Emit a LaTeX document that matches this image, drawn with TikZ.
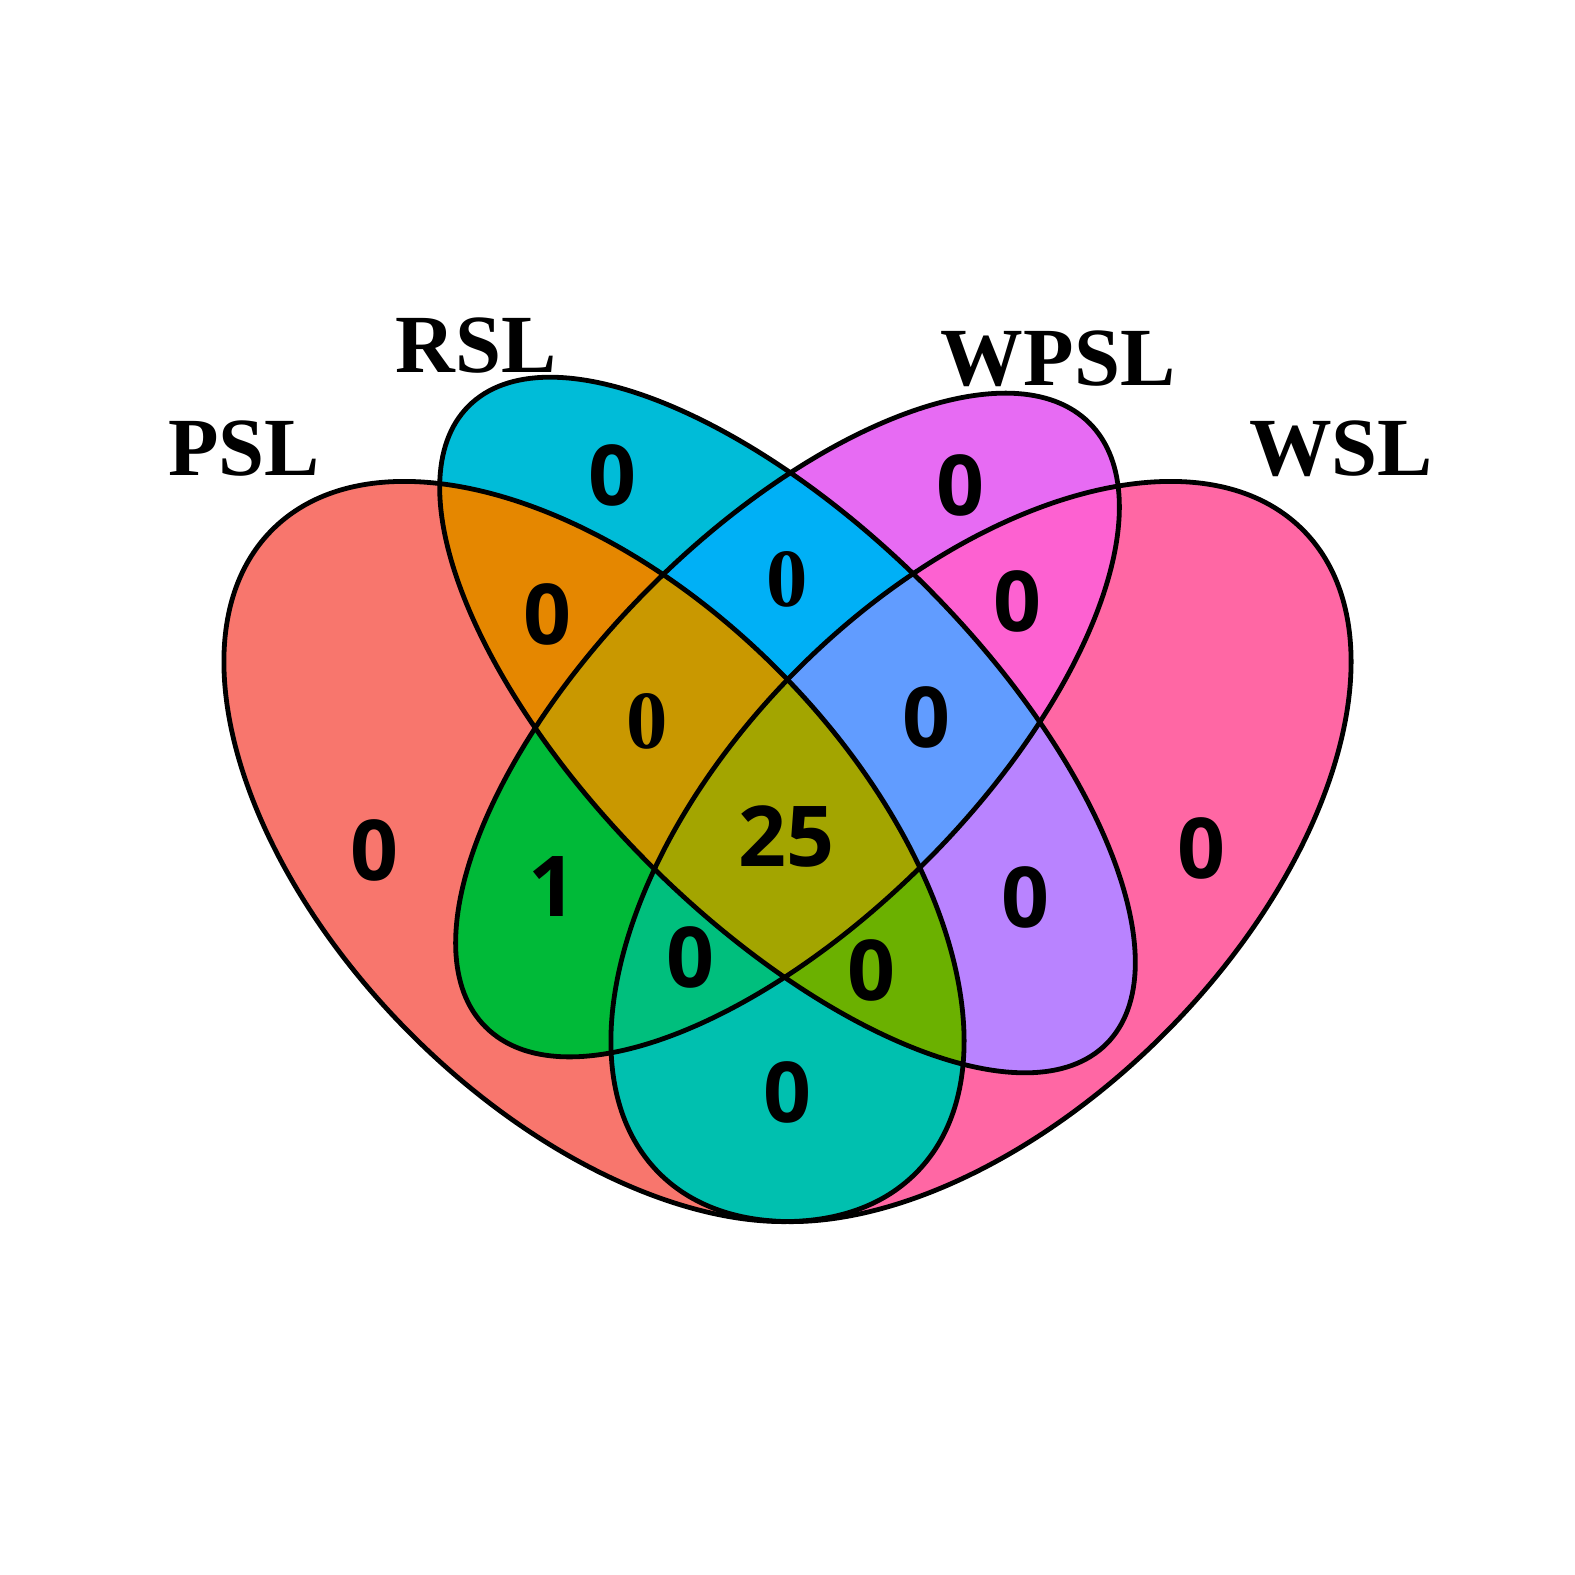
\documentclass[tikz,border=0pt]{standalone}
\usepackage{fontspec}
\setmainfont{Liberation Serif}
\newfontfamily\namefont{Liberation Serif Bold}
\newfontfamily\countfont{Open Sans Bold}

\tikzset{every picture/.style={line width=0.75pt}}
\tikzset{
	set line/.style={draw={rgb, 255:red, 0; green, 0; blue, 0 }, line width=3.6pt},
	set name/.style={font=\namefont\fontsize{62}{62}\selectfont},
	num label/.style={font=\countfont\fontsize{63}{63}\selectfont},
	num serif/.style={font=\namefont\fontsize{62}{62}\selectfont}}
% the four sets
\newcommand{\shapePSL}{(594,851.5) ellipse [x radius=455, y radius=258.5, rotate=45]}
\newcommand{\shapeRSL}{(787.5,725) ellipse [x radius=451, y radius=196, rotate=45]}
\newcommand{\shapeWPSL}{(787.5,725) ellipse [x radius=427, y radius=194.5, rotate=-45]}
\newcommand{\shapeWSL}{(981,851.5) ellipse [x radius=455, y radius=258.5, rotate=-45]}

\begin{document}
\begin{tikzpicture}[x=0.75pt,y=0.75pt,yscale=-1,xscale=1]
	%set diagram size to the whole canvas
	\path (0,0) -- (1575,1575);

	%Shape: Ellipse [PSL] 
	\fill [fill={rgb, 255:red, 248; green, 118; blue, 109 }] \shapePSL;
	%Shape: Ellipse [RSL] 
	\fill [fill={rgb, 255:red, 0; green, 188; blue, 216 }] \shapeRSL;
	%Shape: Ellipse [WPSL] 
	\fill [fill={rgb, 255:red, 231; green, 107; blue, 243 }] \shapeWPSL;
	%Shape: Ellipse [WSL] 
	\fill [fill={rgb, 255:red, 255; green, 103; blue, 164 }] \shapeWSL;

	%Region: PSL & RSL
	\begin{scope} \clip \shapePSL; \fill [fill={rgb, 255:red, 229; green, 135; blue, 0 }] \shapeRSL; \end{scope}
	%Region: PSL & WPSL
	\begin{scope} \clip \shapePSL; \fill [fill={rgb, 255:red, 0; green, 186; blue, 56 }] \shapeWPSL; \end{scope}
	%Region: PSL & WSL
	\begin{scope} \clip \shapePSL; \fill [fill={rgb, 255:red, 0; green, 192; blue, 175 }] \shapeWSL; \end{scope}
	%Region: RSL & WPSL
	\begin{scope} \clip \shapeRSL; \fill [fill={rgb, 255:red, 0; green, 176; blue, 246 }] \shapeWPSL; \end{scope}
	%Region: RSL & WSL
	\begin{scope} \clip \shapeRSL; \fill [fill={rgb, 255:red, 185; green, 131; blue, 255 }] \shapeWSL; \end{scope}
	%Region: WPSL & WSL
	\begin{scope} \clip \shapeWPSL; \fill [fill={rgb, 255:red, 253; green, 97; blue, 209 }] \shapeWSL; \end{scope}

	%Region: PSL & RSL & WPSL
	\begin{scope} \clip \shapePSL; \clip \shapeRSL; \fill [fill={rgb, 255:red, 201; green, 152; blue, 0 }] \shapeWPSL; \end{scope}
	%Region: PSL & RSL & WSL
	\begin{scope} \clip \shapePSL; \clip \shapeRSL; \fill [fill={rgb, 255:red, 107; green, 177; blue, 0 }] \shapeWSL; \end{scope}
	%Region: PSL & WPSL & WSL
	\begin{scope} \clip \shapePSL; \clip \shapeWPSL; \fill [fill={rgb, 255:red, 0; green, 191; blue, 125 }] \shapeWSL; \end{scope}
	%Region: RSL & WPSL & WSL
	\begin{scope} \clip \shapeRSL; \clip \shapeWPSL; \fill [fill={rgb, 255:red, 97; green, 156; blue, 255 }] \shapeWSL; \end{scope}
	%Region: all four
	\begin{scope} \clip \shapePSL; \clip \shapeRSL; \clip \shapeWPSL; \fill [fill={rgb, 255:red, 163; green, 165; blue, 0 }] \shapeWSL; \end{scope}

	%Outlines
	\draw [set line] \shapePSL;
	\draw [set line] \shapeRSL;
	\draw [set line] \shapeWPSL;
	\draw [set line] \shapeWSL;

	% Text Node
	\draw (244,449) node (labPSL) [set name] {PSL};
	% Text Node
	\draw (476,346) node (labRSL) [set name] {RSL};
	% Text Node
	\draw (1058,359) node (labWPSL) [set name] {WPSL};
	% Text Node
	\draw (1341,449) node (labWSL) [set name] {WSL};

	% Text Node
	\draw (374,850) node (nP) [num label] {0};
	% Text Node
	\draw (612,475) node (nR) [num label] {0};
	% Text Node
	\draw (960,485) node (nWP) [num label] {0};
	% Text Node
	\draw (1201,848) node (nW) [num label] {0};
	% Text Node
	\draw (547,614) node (nPR) [num label] {0};
	% Text Node
	\draw (787,579) node (nRWP) [num serif] {0};
	% Text Node
	\draw (1017,601) node (nWPW) [num label] {0};
	% Text Node
	\draw (647,721) node (nPRWP) [num serif] {0};
	% Text Node
	\draw (926,717) node (nRWPW) [num label] {0};
	% Text Node
	\draw (786,836) node (nAll) [num label] {25};
	% Text Node
	\draw (552,887) node (nPWP) [num label] {1};
	% Text Node
	\draw (690,957) node (nPWPW) [num label] {0};
	% Text Node
	\draw (871,970) node (nPRW) [num label] {0};
	% Text Node
	\draw (1025,897) node (nRW) [num label] {0};
	% Text Node
	\draw (787,1092) node (nPW) [num label] {0};

\end{tikzpicture}
\end{document}
